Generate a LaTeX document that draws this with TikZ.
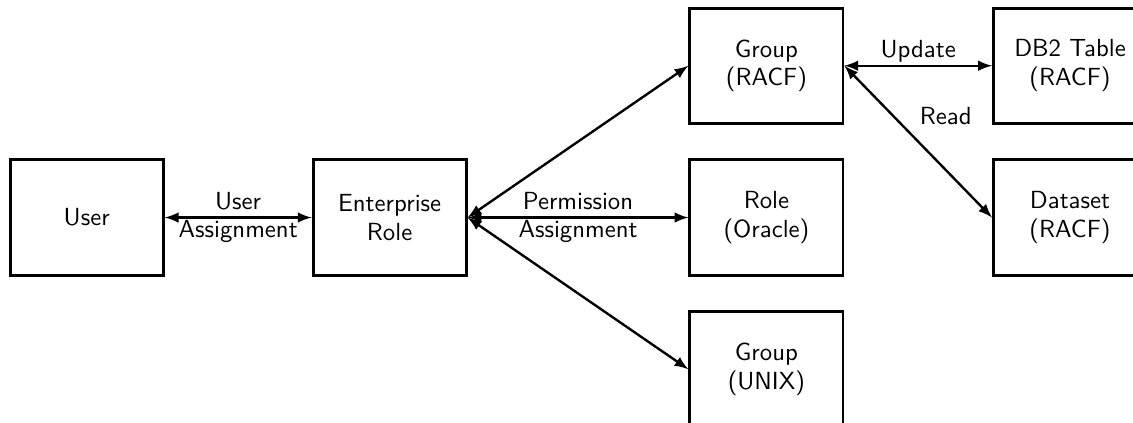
\documentclass[tikz,border=0pt]{standalone}
\usepackage{amsmath}
\usepackage{tikz}
\usetikzlibrary{arrows}

\begin{document}
\begin{tikzpicture}[
		font=\sffamily\fontsize{10.4}{12}\selectfont,
		>=latex,
		box/.style={draw, very thick, minimum width=2.26cm, minimum height=1.70cm, align=center},
		link/.style={<->, line width=1pt}
	]
		% visible area
		\clip (0,0) rectangle (16.72,-6.24);
		
		% draw boxes
		\node[box] (user) at (1.28,-3.21) {User};
		\node[box] (erole) at (5.75,-3.21) {Enterprise\\Role};
		\node[box] (racf) at (11.31,-0.97) {Group\\(RACF)};
		\node[box] (oracle) at (11.31,-3.21) {Role\\(Oracle)};
		\node[box] (unix) at (11.31,-5.45) {Group\\(UNIX)};
		\node[box] (db2) at (15.79,-0.97) {DB2 Table\\(RACF)};
		\node[box] (dataset) at (15.79,-3.21) {Dataset\\(RACF)};
		
		% draw links
		\draw[link] (user) -- node[align=center] {User\\Assignment} (erole);
		\draw[link] (erole.east) -- node[align=center] {Permission\\Assignment} (oracle.west);
		\foreach \t in {racf,unix}
		\draw[link] (erole.east) -- (\t.west);
		\draw[link] (racf.east) -- node[above, inner sep=1pt] {Update} (db2.west);
		\draw[link] (racf.east) -- node[pos=0.45, anchor=south west] {Read} (dataset.west);
		
\end{tikzpicture}
\end{document}
